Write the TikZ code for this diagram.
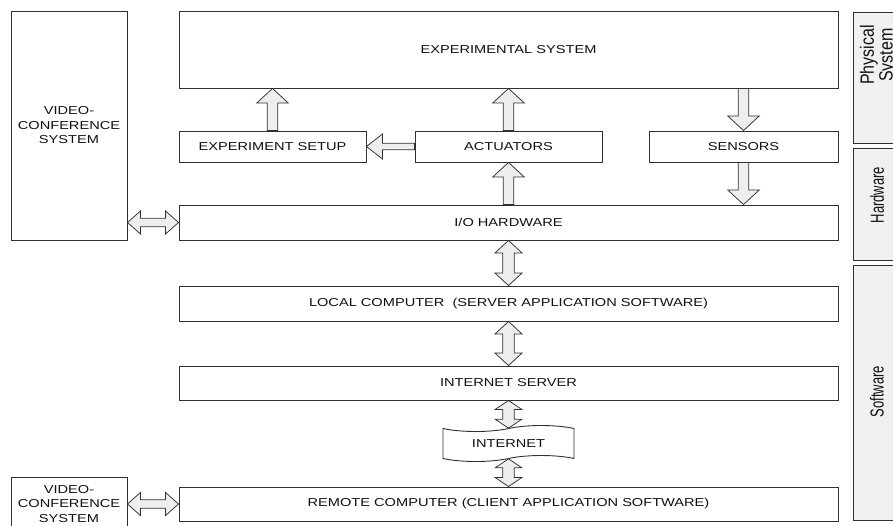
\documentclass[tikz,border=0pt]{standalone}
\usepackage{fontspec}
\setmainfont[FakeStretch=1.27]{Liberation Sans}
\newfontfamily\sidefont{Liberation Sans}
\usetikzlibrary{calc,shapes.symbols}
\definecolor{linec}{HTML}{303030}
\definecolor{arrowfill}{HTML}{EEEEEE}
\definecolor{bandfill}{HTML}{F0F0F0}
\definecolor{txt}{HTML}{111111}

% single block arrow: tail, tip, shaft half-width, head half-width, head length
\newcommand\blkarrow[5]{%
  \coordinate (arA) at (#1); \coordinate (arB) at (#2);
  \coordinate (arH) at ($(arB)!#5!(arA)$);
  \draw[blk] ($(arA)!#3!90:(arB)$) -- ($(arH)!#3!90:(arB)$) -- ($(arH)!#4!90:(arB)$)
    -- (arB) -- ($(arH)!#4!-90:(arB)$) -- ($(arH)!#3!-90:(arB)$) -- ($(arA)!#3!-90:(arB)$) -- cycle;}
% double block arrow: end, end, shaft half-width, head half-width, head length
\newcommand\dblarrow[5]{%
  \coordinate (arA) at (#1); \coordinate (arB) at (#2);
  \coordinate (arH) at ($(arB)!#5!(arA)$);
  \coordinate (arG) at ($(arA)!#5!(arB)$);
  \draw[blk] (arA) -- ($(arG)!#4!90:(arB)$) -- ($(arG)!#3!90:(arB)$) -- ($(arH)!#3!90:(arB)$)
    -- ($(arH)!#4!90:(arB)$) -- (arB) -- ($(arH)!#4!-90:(arB)$) -- ($(arH)!#3!-90:(arB)$)
    -- ($(arG)!#3!-90:(arB)$) -- ($(arG)!#4!-90:(arB)$) -- cycle;}

\begin{document}
\begin{tikzpicture}[x=1pt,y=-1pt,
  box/.style={draw=linec,line width=0.9pt,fill=white,inner sep=0pt,align=center,
    text=txt,font=\fontsize{11.5}{14.5}\selectfont},
  band/.style={draw=linec,line width=0.9pt,fill=bandfill,inner sep=0pt,text=txt},
  blk/.style={draw=linec,line width=0.75pt,fill=arrowfill,line join=miter}]
\useasboundingbox (0,0) rectangle (893,525);
\clip (0,0) rectangle (893,525);

% main blocks
\node[box,minimum width=659pt,minimum height=77pt] (exp) at (508.5,49.5) {EXPERIMENTAL SYSTEM};
\node[box,minimum width=187pt,minimum height=31pt] (setup) at (272.5,146.5) {EXPERIMENT SETUP};
\node[box,minimum width=187pt,minimum height=31pt] (act) at (508.5,146.5) {ACTUATORS};
\node[box,minimum width=189pt,minimum height=31pt] (sens) at (743.5,146.5) {SENSORS};
\node[box,minimum width=659pt,minimum height=35pt] (io) at (508.5,222.5) {I/O HARDWARE};
\node[box,minimum width=659pt,minimum height=35pt] (local) at (508.5,303.5) {LOCAL COMPUTER\ \ (SERVER APPLICATION SOFTWARE)};
\node[box,minimum width=659pt,minimum height=34pt] (iserv) at (508.5,383) {INTERNET SERVER};
\node[box,minimum width=659pt,minimum height=34pt] (remote) at (508.5,504) {REMOTE COMPUTER (CLIENT APPLICATION SOFTWARE)};
\node[box,tape,tape bend height=6pt,minimum width=131pt,minimum height=36pt] (inet) at (508.5,443.5) {INTERNET};

% video-conference systems
\node[box,minimum width=116pt,minimum height=229pt] (vc1) at (69,125.5) {VIDEO-\\CONFERENCE\\SYSTEM};
\node[box,minimum width=116pt,minimum height=54pt] (vc2) at (69,504) {VIDEO-\\CONFERENCE\\SYSTEM};

% layer bands on the right
\node[band,minimum width=46pt,minimum height=131pt] (phys) at (876,77.5) {};
\node[text=txt,inner sep=0pt] (physlbl) at (879,55)
  {\scalebox{1.2}[1]{\rotatebox{90}{\sidefont\fontsize{16}{15}\selectfont\begin{tabular}{@{}c@{}}Physical\\System\end{tabular}}}};
\node[band,minimum width=46pt,minimum height=112pt] (hw) at (876,204) {};
\node[text=txt,inner sep=0pt] (hwlbl) at (877,195)
  {\scalebox{1.45}[1]{\rotatebox{90}{\sidefont\fontsize{13}{14}\selectfont Hardware}}};
\node[band,minimum width=46pt,minimum height=255pt] (sw) at (876,392.5) {};
\node[text=txt,inner sep=0pt] (swlbl) at (877,391.5)
  {\scalebox{1.45}[1]{\rotatebox{90}{\sidefont\fontsize{13}{14}\selectfont Software}}};

% signal flow
\blkarrow{setup.north}{setup.north |- exp.south}{5.2pt}{15.7pt}{14.5pt}
\blkarrow{act.north}{act.north |- exp.south}{5.2pt}{15.7pt}{14.5pt}
\blkarrow{act.west}{setup.east}{3.3pt}{12.5pt}{16pt}
\blkarrow{act.south |- io.north}{act.south}{5.2pt}{15.7pt}{14.5pt}
\blkarrow{sens.north |- exp.south}{sens.north}{5.2pt}{15.7pt}{14.5pt}
\blkarrow{sens.south}{sens.south |- io.north}{5.2pt}{15.7pt}{14.5pt}

% two-way links
\dblarrow{io.west -| vc1.east}{io.west}{4.2pt}{11.5pt}{13pt}
\dblarrow{vc2.east}{remote.west}{4.2pt}{11.5pt}{13pt}
\dblarrow{io.south}{local.north}{5.8pt}{13.5pt}{12.5pt}
\dblarrow{local.south}{iserv.north}{5.8pt}{13.5pt}{12.5pt}
\dblarrow{iserv.south}{inet.north}{5.8pt}{13.3pt}{9pt}
\dblarrow{inet.south}{remote.north}{5.8pt}{13.3pt}{9pt}
\end{tikzpicture}
\end{document}
